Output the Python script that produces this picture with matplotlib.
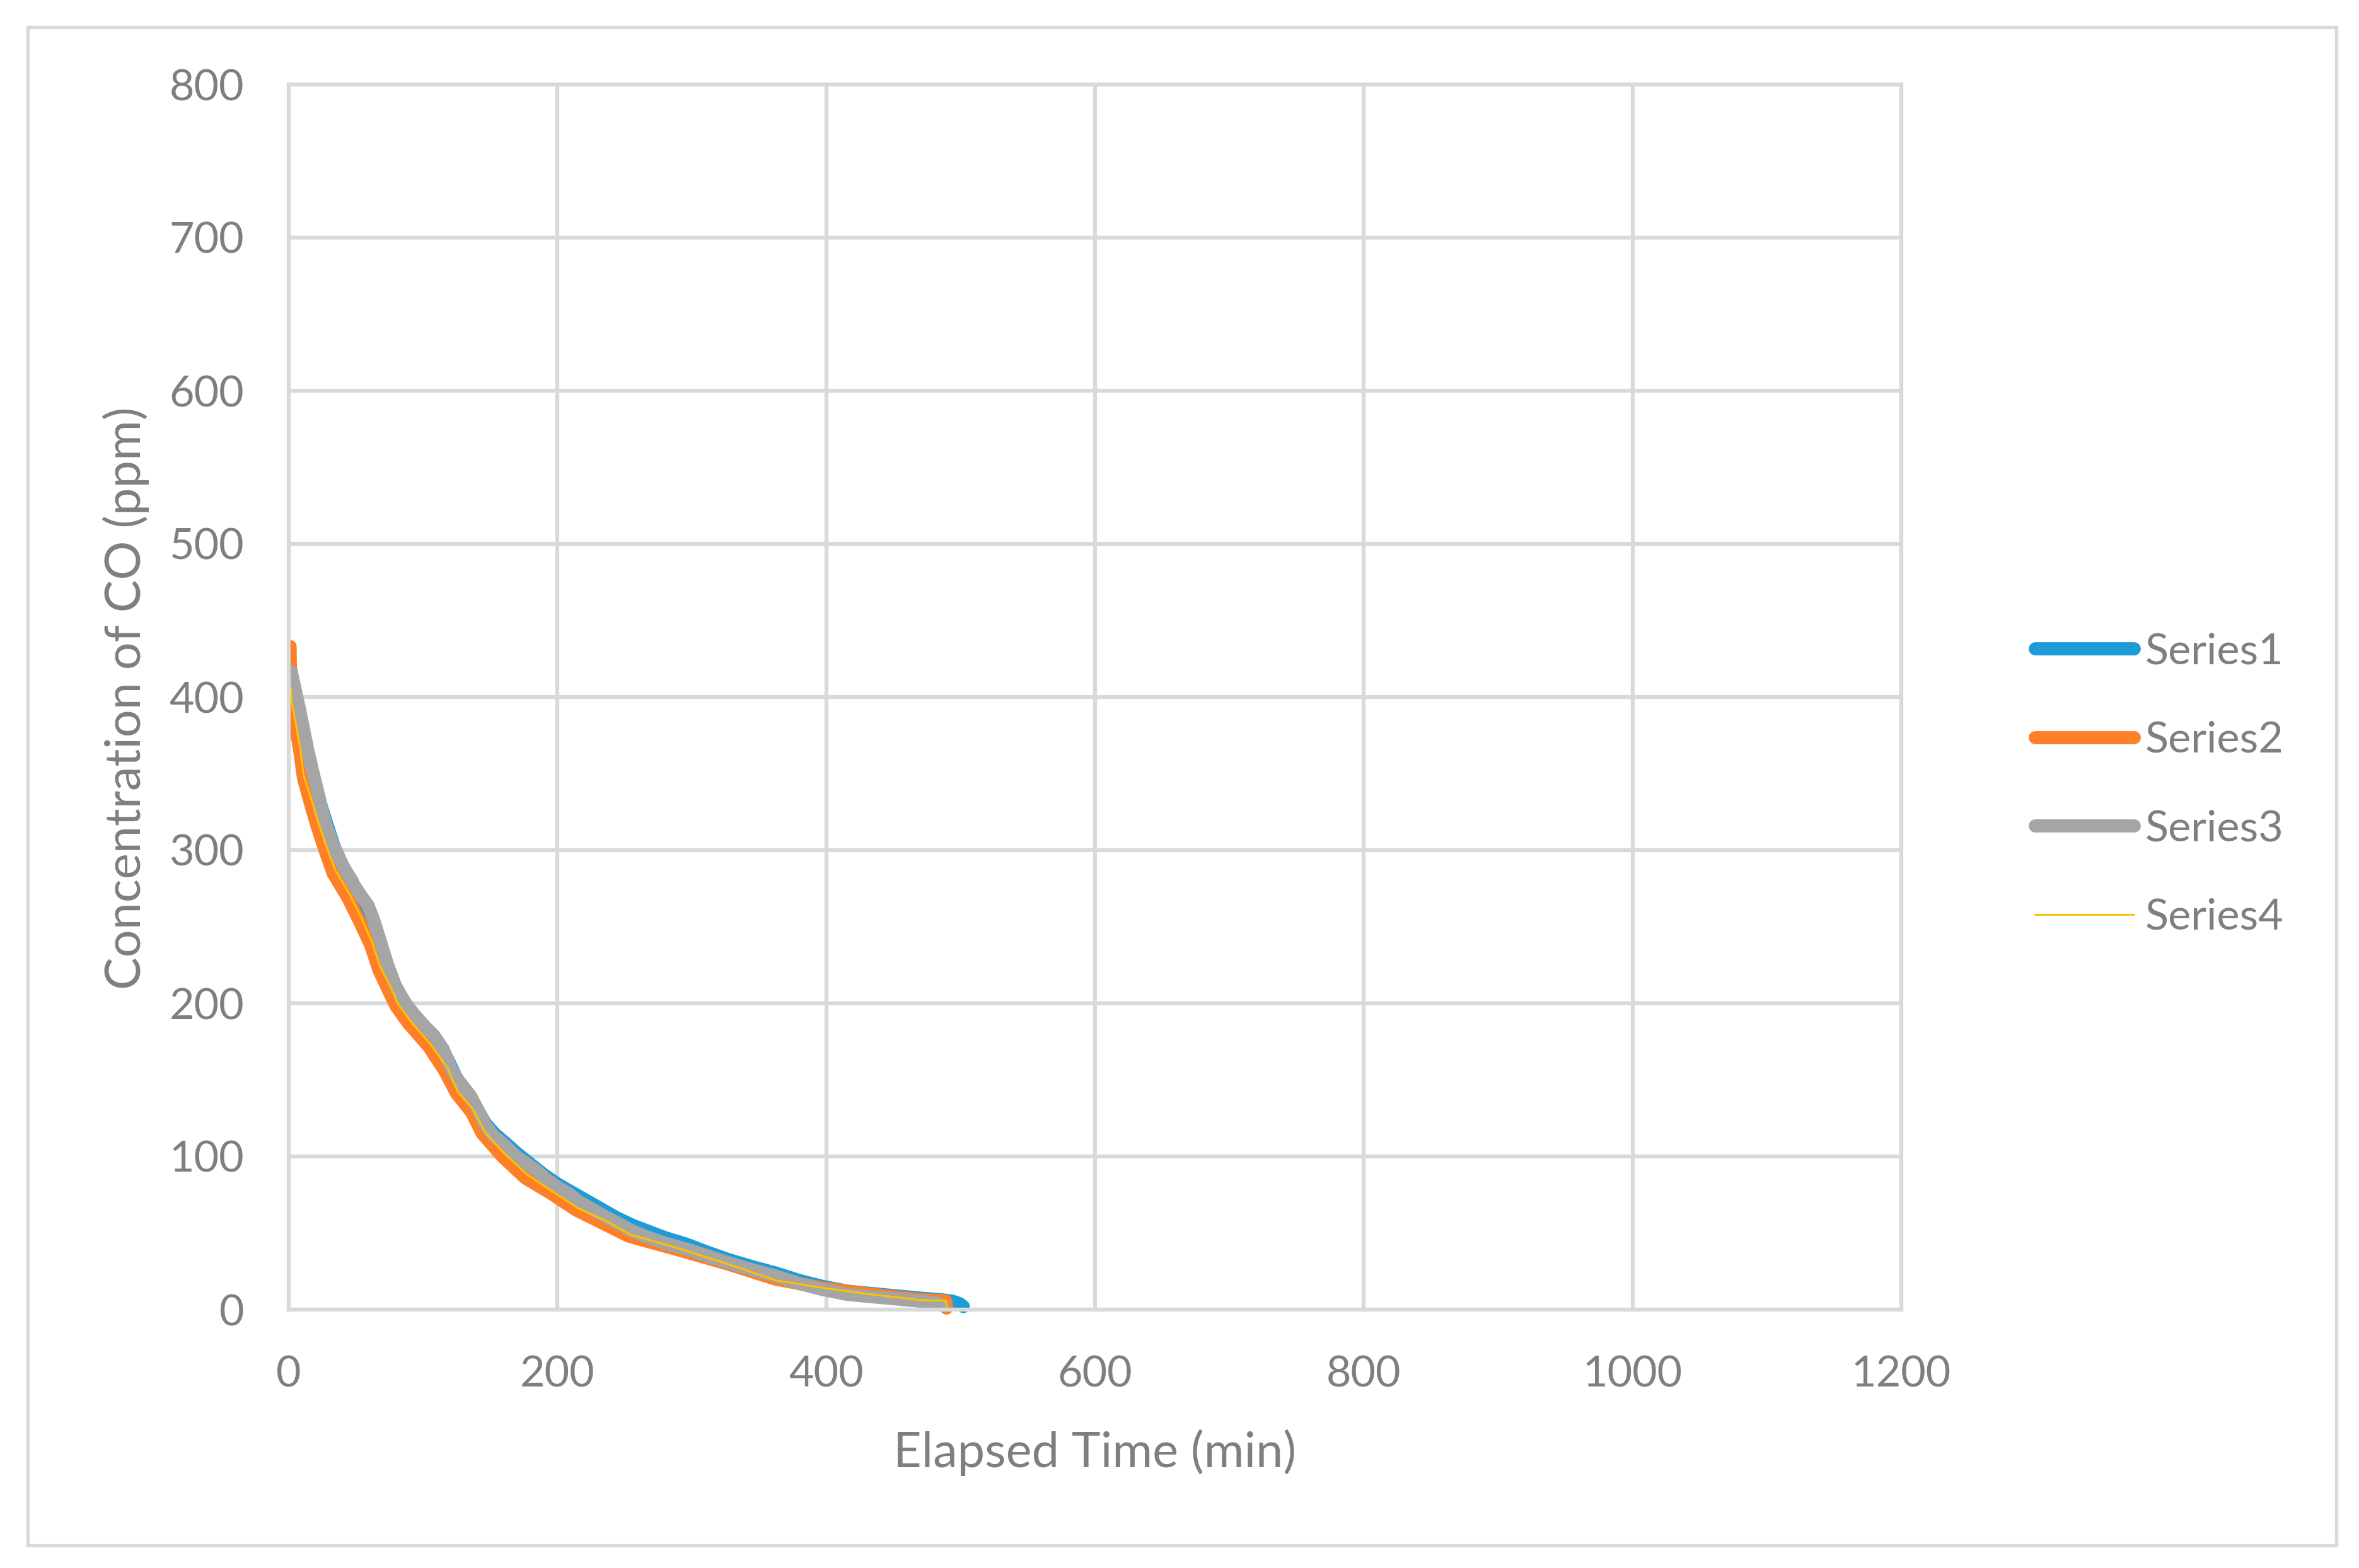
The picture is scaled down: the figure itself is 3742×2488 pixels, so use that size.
import matplotlib.pyplot as plt
from matplotlib.patches import Rectangle

plt.rcParams['font.family'] = ['Lato', 'DejaVu Sans']

# ---- data (time in min, CO in ppm) ----
t1 = [0, 2, 5, 8, 12, 17, 22, 28, 34, 40, 47, 54, 60, 66, 72, 79, 86, 93, 101,
      110, 118, 125, 132, 139, 146, 153, 161, 170, 180, 190, 200, 210, 220, 232,
      244, 256, 268, 280, 295, 310, 326, 345, 362, 380, 398, 416, 434, 452, 470,
      485, 494, 499, 502]
s1 = [425, 415, 398, 387, 372, 352, 335, 318, 302, 290, 280, 266, 258, 245, 228,
      212, 201, 193, 185, 176, 164, 151, 143, 133, 122, 115, 109, 102, 95, 88, 82,
      77, 72, 66, 60, 55, 51, 47, 43, 38, 33, 28, 24, 19, 15, 12, 10.5, 9, 7.5,
      6.5, 5.5, 4, 2]

t2 = [0, 1, 1.5, 3, 5.5, 8.5, 11, 16, 21, 27, 33, 44, 53, 61, 67, 75, 80, 89,
      104, 116, 125, 136, 144, 159, 176, 195, 214, 237, 253, 261, 290, 326, 362,
      398, 434, 470, 485, 489, 489.5]
s2 = [433, 433, 402, 391, 379, 363, 347, 331, 316, 300, 285, 269, 253, 238, 222,
      207, 198, 187, 172, 156, 141, 129, 115, 100, 86, 76, 65, 55, 48, 46, 39, 30,
      20, 14, 10, 6.5, 6, 5.5, 1]

t3 = [0, 2, 5, 8, 10.6, 14, 18.5, 23, 27, 32, 37, 42, 48, 54, 59, 63, 68, 74, 80,
      87, 92, 100, 108, 115, 121, 128, 135, 141, 146, 152, 160, 168, 176, 184,
      192, 200, 208, 215, 225, 235, 246, 254, 265, 278, 290, 305, 326, 345, 362,
      380, 398, 415, 434, 452, 470, 482, 487]
s3 = [417, 416, 404, 392, 381, 366, 349, 333, 318, 306, 296, 287, 278, 270, 264,
      255, 241, 224, 210, 200, 194, 186, 179, 170, 157, 147, 140, 130, 121, 114,
      108, 101, 96, 91, 85, 80, 76, 71, 66, 61, 56, 52, 48, 44, 41, 37, 31, 26,
      22, 17, 13, 10, 8.4, 7, 5.5, 4.5, 2.5]

t4 = [1.3, 3, 5.6, 8.8, 11, 16.6, 22, 27.8, 34.6, 45.5, 54, 62, 68, 76.8, 81, 90,
      105.7, 118, 126, 137, 146, 160.4, 177.6, 196.4, 215, 238.6, 254, 262, 290,
      326, 362, 398, 434, 470, 489, 489.5]
s4 = [407, 393, 381, 365, 349, 334, 318, 303, 287, 271, 256, 240, 224, 209, 200,
      189, 173, 158, 142, 131, 116, 102, 88, 77, 66.4, 56.8, 49, 47, 40, 30, 19.2,
      14.1, 9.9, 6.2, 5.8, 0]

labels = ["Series1", "Series2", "Series3", "Series4"]
colors = ["#1E9CD8", "#FD7F28", "#A5A5A5", "#FFC000"]
widths = [5.0, 5.0, 5.0, 0.75]

grid_c = "#D9D9D9"
text_c = "#7F7F7F"

fig = plt.figure(figsize=(3742 / 300, 2488 / 300), dpi=300)
ax = fig.add_axes([458 / 3742, 1 - 2078 / 2488, 2558 / 3742, 1944 / 2488])

clip = Rectangle((0, -0.03), 1.03, 1.06, transform=ax.transAxes)
for t, s, lab, c, w in zip([t1, t2, t3, t4], [s1, s2, s3, s4], labels, colors, widths):
    ln, = ax.plot(t, s, color=c, lw=w, label=lab,
                  solid_capstyle='round', solid_joinstyle='round')
    ln.set_clip_path(clip)

ax.set_xlim(0, 1200)
ax.set_ylim(0, 800)
ax.set_xticks(range(0, 1201, 200))
ax.set_yticks(range(0, 801, 100))
ax.grid(True, color=grid_c, lw=1.5)
ax.set_axisbelow(True)
for sp in ax.spines.values():
    sp.set_color(grid_c)
    sp.set_linewidth(1.5)
ax.tick_params(length=0, labelsize=16.4, labelcolor=text_c)
ax.tick_params(axis='x', pad=17.5)
ax.tick_params(axis='y', pad=17)

fig.text(1737 / 3742, 1 - 2328 / 2488, "Elapsed Time (min)", fontsize=18.6,
         color=text_c, ha='center', va='baseline')
fig.text(200 / 3742, 1 - 1108 / 2488, "Concentration of CO (ppm)", fontsize=18.6,
         color=text_c, ha='center', va='center', rotation=90)

leg = ax.legend(loc='center left', bbox_to_anchor=(3228 / 3742, 1 - 1245 / 2488),
                bbox_transform=fig.transFigure, frameon=False, fontsize=16.4,
                handlelength=2.3, handletextpad=0.25, labelspacing=1.15,
                borderpad=0, borderaxespad=0)
for txt in leg.get_texts():
    txt.set_color(text_c)

# outer chart border
fig.patches.append(Rectangle((44 / 3742, 1 - 2452 / 2488), 3662 / 3742, 2409 / 2488,
                             transform=fig.transFigure, fill=False,
                             edgecolor=grid_c, lw=1.3))

fig.savefig("out.png", dpi=300)
